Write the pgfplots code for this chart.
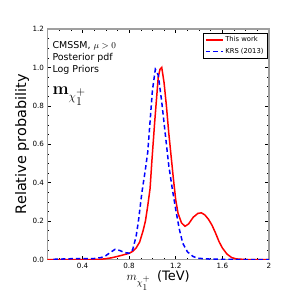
\documentclass[border=0pt]{standalone}
\usepackage{pgfplots}
\pgfplotsset{compat=1.18}
\usepackage[no-math]{fontspec}
\setmainfont{DejaVu Sans}
\begin{document}
\begin{tikzpicture}
\begin{axis}[
  scale only axis,
  width=221.5bp, height=230.5bp,
  at={(0,0)}, anchor=south west,
  xmin=0.1, xmax=2, ymin=0, ymax=1.2,
  xtick={0.4,0.8,1.2,1.6,2},
  xticklabels={0.4,0.8,1.2,1.6,2},
  minor xtick={0.1,0.2,...,2.0},
  ytick={0,0.2,0.4,0.6,0.8,1.0,1.2},
  minor ytick={0.05,0.1,...,1.2},
  yticklabel style={/pgf/number format/.cd,fixed,fixed zerofill,precision=1},
  /pgf/number format/assume math mode=true,
  ticklabel style={font=\fontsize{7.2}{8}\selectfont},
  tick align=inside,
  major tick length=4bp, minor tick length=2bp,
  tick style={black, line width=0.5bp},
  axis line style={draw=gray!75, line width=1.6bp},
  xlabel={$m_{\chi_{\scriptstyle 1}^{\scriptstyle +}}$\, (TeV)},
  ylabel={Relative probability},
  xlabel style={font=\fontsize{13}{15}\selectfont, at={(axis description cs:0.5,0)}, anchor=center, yshift=-21bp},
  ylabel style={font=\fontsize{14.5}{16}\selectfont, at={(axis description cs:-0.115,0.5)}, anchor=center},
  legend style={at={(axis description cs:0.992,0.984)}, anchor=north east,
    font=\fontsize{6.8}{8}\selectfont, draw=black, line width=0.5bp,
    inner xsep=1.5bp, inner ysep=1.5bp, row sep=1bp, cells={anchor=west}},
  legend cell align=left,
  legend image code/.code={\draw[#1] (0bp,0bp) -- (17bp,0bp);},
  clip=true,
]
\addplot[red, line width=1.5bp] coordinates {
(0.1,0) (0.5,0) (0.55,0.001) (0.6,0.004) (0.65,0.009) (0.7,0.016) (0.75,0.024)
(0.8,0.032) (0.83,0.042) (0.86,0.06) (0.89,0.09) (0.92,0.15) (0.94,0.2)
(0.96,0.28) (0.98,0.37) (0.995,0.51) (1.02,0.72) (1.05,0.95) (1.065,0.99)
(1.08,1.0) (1.1,0.92) (1.12,0.8) (1.14,0.66) (1.16,0.54) (1.18,0.42)
(1.2,0.31) (1.22,0.24) (1.25,0.19) (1.28,0.173) (1.31,0.185) (1.35,0.22)
(1.39,0.24) (1.42,0.243) (1.45,0.232) (1.48,0.21) (1.51,0.18) (1.54,0.14)
(1.57,0.095) (1.6,0.06) (1.64,0.028) (1.68,0.01) (1.72,0.003) (1.8,0) (2.0,0)
};
\addlegendentry{This work}
\addplot[blue, line width=1.5bp, dash pattern=on 4.5bp off 3bp] coordinates {
(0.15,0.001) (0.2,0.002) (0.3,0.004) (0.4,0.005) (0.5,0.005) (0.56,0.01)
(0.6,0.02) (0.64,0.037) (0.68,0.053) (0.72,0.047) (0.76,0.036) (0.8,0.033)
(0.83,0.05) (0.86,0.12) (0.88,0.2) (0.91,0.35) (0.94,0.47) (0.96,0.56)
(0.98,0.72) (1.0,0.88) (1.025,0.99) (1.05,0.96) (1.08,0.82) (1.1,0.71)
(1.12,0.6) (1.14,0.49) (1.17,0.37) (1.2,0.26) (1.23,0.16) (1.26,0.085)
(1.3,0.04) (1.35,0.015) (1.4,0.006) (1.5,0.002) (1.6,0.001) (1.7,0) (2.0,0)
};
\addlegendentry{KRS (2013)}
\node[anchor=north west, align=left, inner sep=0pt, font=\fontsize{9.5}{11.6}\selectfont]
  at (axis description cs:0.022,0.945) {CMSSM, $\mu>0$\\Posterior pdf\\Log Priors};
\node[anchor=base west, inner sep=0pt, font=\fontsize{18}{20}\selectfont]
  at (axis description cs:0.022,0.716) {$\mathbf{m}_{\chi_{\scriptstyle 1}^{\scriptstyle +}}$};
\node[anchor=base east, inner sep=0pt, font=\fontsize{6.8}{8}\selectfont]
  at (axis description cs:1,1) [yshift=2.5bp] {BayesFITS (2014)};
\end{axis}
\path[use as bounding box] (-47.5bp,-39.5bp) rectangle (251.5bp,259.5bp);
\end{tikzpicture}
\end{document}
